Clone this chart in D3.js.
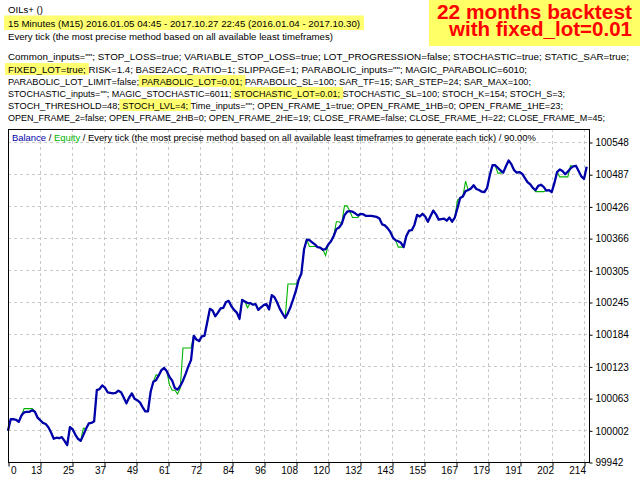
<!DOCTYPE html>
<html><head><meta charset="utf-8">
<script src="https://cdn.jsdelivr.net/npm/d3@7"></script>
<style>body{margin:0;background:#fff}svg{display:block}</style>
</head><body>
<svg id="c" width="640" height="480"></svg>
<script>
// ---------- data ----------
const balance = [
100001,100023,100023,100022,100018,100030,100036,100037,100037,100040,
100037,100026,100021,100016,100014,100008,99998,99986,99988,99987,
99989,99982,99974,100008,100004,99994,99986,99982,99993,100005,
100015,100016,100019,100078,100080,100087,100083,100074,100073,100072,
100073,100077,100074,100064,100053,100064,100072,100062,100059,100055,
100046,100038,100038,100075,100094,100097,100106,100116,100120,100114,
100103,100096,100082,100079,100086,100096,100109,100123,100135,100181,
100174,100171,100180,100181,100206,100232,100229,100218,100225,100233,
100234,100245,100247,100237,100230,100225,100213,100249,100246,100243,
100243,100240,100241,100230,100235,100239,100241,100231,100258,100254,
100244,100232,100223,100215,100224,100236,100251,100267,100287,100299,
100345,100363,100362,100358,100354,100349,100348,100344,100345,100354,
100360,100370,100383,100386,100393,100409,100416,100417,100416,100413,
100409,100412,100411,100408,100408,100408,100407,100406,100403,100392,
100390,100385,100378,100367,100362,100360,100357,100349,100370,100380,
100381,100391,100410,100407,100412,100407,100397,100408,100418,100411,
100401,100402,100403,100399,100405,100397,100405,100423,100442,100445,
100455,100457,100460,100466,100459,100457,100454,100453,100461,100485,
100504,100504,100499,100494,100490,100502,100513,100506,100495,100490,
100491,100488,100480,100472,100468,100461,100457,100465,100467,100463,
100456,100457,100453,100470,100491,100496,100493,100487,100492,100498,
100502,100503,100493,100483,100478,100501];

const equity = [
100001,100023,100023,100022,100018,100030,100043,100043,100043,100043,
100037,100026,100021,100016,100014,100008,99998,99986,99988,99987,
99989,99982,99974,100008,100004,99994,99986,99982,100006,100005,
100015,100016,100019,100078,100080,100087,100083,100074,100073,100072,
100073,100077,100074,100064,100053,100064,100072,100062,100059,100055,
100046,100038,100038,100075,100094,100107,100106,100116,100120,100114,
100088,100078,100078,100071,100082,100158,100158,100158,100158,100181,
100174,100171,100180,100181,100206,100232,100229,100218,100225,100233,
100234,100245,100247,100237,100230,100225,100213,100249,100246,100234,
100243,100240,100241,100230,100235,100239,100241,100231,100258,100254,
100244,100232,100223,100215,100279,100279,100279,100279,100287,100299,
100345,100363,100350,100350,100350,100349,100348,100344,100333,100354,
100360,100370,100397,100397,100393,100427,100427,100417,100405,100405,
100405,100412,100411,100408,100408,100408,100407,100406,100403,100392,
100390,100385,100378,100367,100362,100349,100349,100349,100370,100380,
100381,100391,100410,100407,100412,100407,100397,100408,100418,100411,
100401,100402,100403,100399,100405,100397,100405,100438,100442,100445,
100474,100457,100460,100466,100459,100457,100454,100453,100461,100485,
100504,100504,100489,100489,100490,100502,100513,100506,100495,100490,
100491,100488,100480,100472,100468,100461,100454,100454,100454,100454,
100456,100457,100453,100470,100491,100482,100482,100482,100482,100503,
100502,100503,100493,100483,100478,100501];

const xTickLabels = ["0","13","25","37","49","61","72","84","96","108","120","132","143","155","167","179","191","202","214"];
const yTickValues = [99942,100002,100063,100123,100184,100245,100305,100366,100426,100487,100548];
const yTickLabels = ["99942","100002","100063","100123","100184","100245","100305","100366","100426","100487","100548"];

const headerTexts = [
 "OILs+ ()",
 "15 Minutes (M15) 2016.01.05 04:45 - 2017.10.27 22:45 (2016.01.04 - 2017.10.30)",
 "Every tick (the most precise method based on all available least timeframes)",
 'Common_inputs=""; STOP_LOSS=true; VARIABLE_STOP_LOSS=true; LOT_PROGRESSION=false; STOCHASTIC=true; STATIC_SAR=true;',
 'FIXED_LOT=true; RISK=1.4; BASE2ACC_RATIO=1; SLIPPAGE=1; PARABOLIC_inputs=""; MAGIC_PARABOLIC=6010;',
 'PARABOLIC_LOT_LIMIT=false; PARABOLIC_LOT=0.01; PARABOLIC_SL=100; SAR_TF=15; SAR_STEP=24; SAR_MAX=100;',
 'STOCHASTIC_inputs=""; MAGIC_STOCHASTIC=6011; STOCHASTIC_LOT=0.01; STOCHASTIC_SL=100; STOCH_K=154; STOCH_S=3;',
 'STOCH_THRESHOLD=48; STOCH_LVL=4; Time_inputs=""; OPEN_FRAME_1=true; OPEN_FRAME_1HB=0; OPEN_FRAME_1HE=23;',
 'OPEN_FRAME_2=false; OPEN_FRAME_2HB=0; OPEN_FRAME_2HE=19; CLOSE_FRAME=false; CLOSE_FRAME_H=22; CLOSE_FRAME_M=45;'
];
const headerHighlights = [null,"*",null,null,"FIXED_LOT=true;","PARABOLIC_LOT=0.01;","STOCHASTIC_LOT=0.01;","STOCH_LVL=4;",null];
const bannerLines = ["22 months backtest","with fixed_lot=0.01"];
const legendParts = [["Balance","balance"],[" / ","text"],["Equity","equity"],[" / Every tick (the most precise method based on all available least timeframes to generate each tick) / 90.00%","text"]];

// ---------- layout ----------
const FONT = "'Liberation Sans', Arial, sans-serif";
const svg = d3.select("#c");
const COL = {balance:"#0000aa", equity:"#00b400", text:"#000"};
const HL = "#ffff70";

// fit a text element's font size to a target width, then pin exact width
function fit(sel, target, base){
  sel.attr("font-size", base);
  const nat = sel.node().getComputedTextLength();
  const fs = Math.min(base*1.1, base*target/nat);
  sel.attr("font-size", fs.toFixed(2)).attr("textLength", target).attr("lengthAdjust","spacingAndGlyphs");
  return sel;
}

// banner
svg.append("rect").attr("x",429).attr("y",0).attr("width",211).attr("height",46).attr("fill","#ffff66");
const bannerY=[19,36], bannerX=[437,449], bannerW=[195,183];
bannerLines.forEach((t,i)=>{
  svg.append("text").attr("x",bannerX[i]).attr("y",bannerY[i])
    .attr("font-family",FONT).attr("font-weight","bold").attr("font-size",20)
    .attr("fill","#ff0000").attr("textLength",bannerW[i]).attr("lengthAdjust","spacingAndGlyphs").text(t);
});

// header lines
const hBase=[12.5,26.5,40,60,72.5,84.5,96.5,108.5,120.5];
const hWidth=[35,352,325,621,519,523,557,555,597];
const hlLayer = svg.append("g");
headerTexts.forEach((t,i)=>{
  const el = svg.append("text").attr("x",8).attr("y",hBase[i])
    .attr("font-family",FONT).attr("fill","#000").text(t);
  fit(el, hWidth[i], 10);
  const h = headerHighlights[i];
  if(h){
    const node = el.node();
    let s=0,e=t.length-1;
    if(h!=="*"){ s=t.indexOf(h); e=s+h.length-1; }
    const a=node.getExtentOfChar(s), b=node.getExtentOfChar(e);
    const pad = (h==="*")?4:3;
    const top = (h==="*")?hBase[i]-11:hBase[i]-9.5;
    const hh = (h==="*")?14.5:12;
    hlLayer.append("rect").attr("x",a.x-pad).attr("y",top)
      .attr("width",(b.x+b.width)-a.x+pad*2).attr("height",hh).attr("fill",HL);
  }
});

// plot area
const L=8, R=589, T=129, B=462;
const x = d3.scaleLinear().domain([0,214]).range([8,584]);
const y = d3.scaleLinear().domain([99942,100548]).range([462,142]);
const xTickPos = xTickLabels.map((d,i)=> i*214/(xTickLabels.length-1));

const grid = svg.append("g").attr("stroke","#c8c8c8").attr("stroke-width",1).attr("stroke-dasharray","3,3");
xTickPos.slice(1).forEach(v=>{
  const px=Math.round(x(v))+0.5;
  grid.append("line").attr("x1",px).attr("x2",px).attr("y1",T).attr("y2",B);
});
yTickValues.slice(1).forEach(v=>{
  const py=Math.round(y(v))+0.5;
  grid.append("line").attr("x1",L).attr("x2",R).attr("y1",py).attr("y2",py);
});

// lines
const line = d3.line().x((d,i)=>x(i)).y(d=>y(d));
svg.append("path").datum(equity).attr("d",line).attr("fill","none")
  .attr("stroke",COL.equity).attr("stroke-width",1.1);
svg.append("path").datum(balance).attr("d",line).attr("fill","none")
  .attr("stroke",COL.balance).attr("stroke-width",2.3).attr("stroke-linejoin","round");

// frame
svg.append("rect").attr("x",L+0.5).attr("y",T+0.5).attr("width",R-L).attr("height",B-T)
  .attr("fill","none").attr("stroke","#000").attr("stroke-width",1);

// legend (one text with coloured parts)
const lg = svg.append("text").attr("x",12).attr("y",140.5).attr("font-family",FONT);
legendParts.forEach(p=> lg.append("tspan").attr("fill",COL[p[1]]).text(p[0]));
fit(lg, 524, 10);

// axes
const xAxis = d3.axisBottom(x).tickValues(xTickPos).tickSize(4).tickFormat((d,i)=>xTickLabels[i]);
const gx = svg.append("g").attr("transform",`translate(0.5,${B+0.5})`).call(xAxis);
gx.select(".domain").remove();
gx.selectAll("line").attr("stroke","#000");
gx.selectAll("text").attr("font-family",FONT).attr("font-size",10).attr("fill","#000")
  .attr("y",11).attr("dy",0).attr("text-anchor",(d,i)=> i===0?"start":"end").attr("x",(d,i)=> i===0?2:1);

const yAxis = d3.axisRight(y).tickValues(yTickValues).tickSize(3).tickPadding(3).tickFormat((d,i)=>yTickLabels[i]);
const gy = svg.append("g").attr("transform",`translate(${R+0.5},0.5)`).call(yAxis);
gy.select(".domain").remove();
gy.selectAll("line").attr("stroke","#000");
gy.selectAll("text").attr("font-family",FONT).attr("font-size",10).attr("fill","#000");
</script>
</body></html>
